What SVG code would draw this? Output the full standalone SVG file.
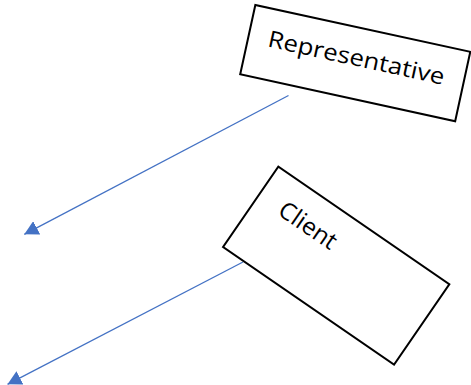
<svg xmlns="http://www.w3.org/2000/svg" width="471" height="385" viewBox="0 0 471 385">
  <style>
    .box { fill: #ffffff; stroke: #000000; stroke-width: 2; }
    .lbl { font-family: "Open Sans", "Noto Sans", "DejaVu Sans", sans-serif; fill: #000000; text-anchor: middle; }
    .conn { stroke: #4472C4; stroke-width: 1.3; fill: none; marker-end: url(#tri); }
  </style>
  <defs>
    <marker id="tri" viewBox="0 0 14 15" refX="14" refY="7.5" markerWidth="14" markerHeight="15" markerUnits="userSpaceOnUse" orient="auto">
      <path d="M0,0 L14,7.5 L0,15 z" fill="#4472C4"/>
    </marker>
  </defs>
  <rect width="471" height="385" fill="#ffffff"/>
  <g id="connectors">
    <line class="conn" x1="288.5" y1="95.5" x2="24.3" y2="234.3"/>
    <line class="conn" x1="243" y1="262" x2="7.5" y2="384.3"/>
  </g>
  <g id="representative" transform="translate(355.25,63.1) rotate(12.3)">
    <rect class="box" x="-110" y="-35.5" width="220" height="71"/>
    <text class="lbl" x="0" y="2.5" font-size="23" textLength="180" lengthAdjust="spacingAndGlyphs">Representative</text>
  </g>
  <g id="client" transform="translate(336.2,265.6) rotate(34.5)">
    <rect class="box" x="-103.75" y="-48.8" width="207.5" height="97.6"/>
    <text class="lbl" x="-46" y="-9" font-size="24" textLength="65" lengthAdjust="spacingAndGlyphs">Client</text>
  </g>
</svg>
